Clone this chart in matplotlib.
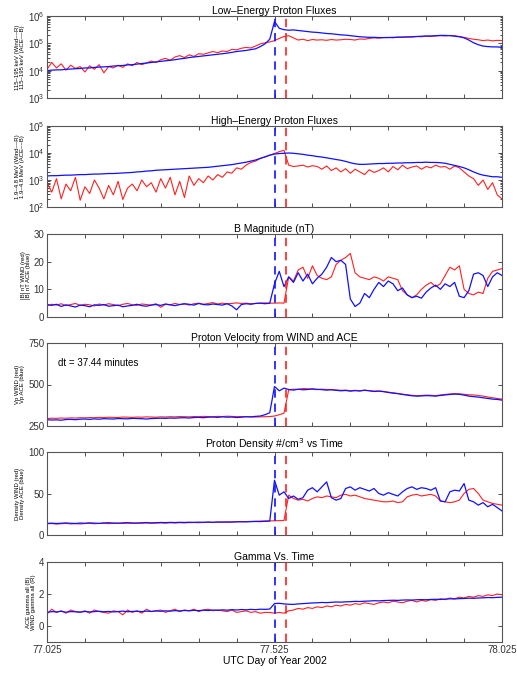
import numpy as np
import matplotlib
matplotlib.use("Agg")
import matplotlib.pyplot as plt

plt.rcParams['font.family'] = ['Liberation Sans', 'DejaVu Sans']

# time grid: 15 minute samples, day of year 2002
t = 77.025 + np.arange(97) / 96.0
t_ace_shock = 77.525
t_wind_shock = 77.525 + 37.44 / 1440.0

# panel 1: low-energy proton flux (log10)
lo_ace = [4.00, 4.02, 4.03, 4.03, 4.05, 4.06, 4.07, 4.08, 4.10, 4.10, 4.12, 4.13,
          4.14, 4.15, 4.17, 4.18, 4.19, 4.21, 4.22, 4.24, 4.26, 4.28, 4.30, 4.32,
          4.34, 4.36, 4.38, 4.40, 4.43, 4.45, 4.48, 4.50, 4.52, 4.54, 4.56, 4.58,
          4.60, 4.62, 4.64, 4.67, 4.70, 4.72, 4.74, 4.77, 4.80, 4.88, 4.98, 5.15,
          5.80, 5.55, 5.50, 5.48, 5.49, 5.47, 5.45, 5.43, 5.41, 5.40, 5.38, 5.36,
          5.35, 5.33, 5.31, 5.30, 5.28, 5.26, 5.24, 5.23, 5.22, 5.22, 5.21, 5.21,
          5.21, 5.22, 5.22, 5.23, 5.23, 5.24, 5.25, 5.26, 5.27, 5.27, 5.28, 5.29,
          5.29, 5.28, 5.26, 5.24, 5.20, 5.12, 5.02, 4.95, 4.90, 4.88, 4.87, 4.87,
          4.85]
lo_wind = [4.05, 4.30, 4.10, 4.25, 4.02, 4.20, 4.08, 4.15, 3.95, 4.18, 4.05, 4.22,
           3.92, 4.15, 4.10, 4.20, 4.12, 4.25, 4.18, 4.30, 4.22, 4.28, 4.35, 4.30,
           4.40, 4.45, 4.38, 4.50, 4.55, 4.48, 4.58, 4.52, 4.62, 4.60, 4.65, 4.70,
           4.66, 4.72, 4.70, 4.78, 4.76, 4.82, 4.85, 4.83, 4.90, 4.98, 5.02, 5.05,
           5.10, 5.18, 5.25, 5.28, 5.20, 5.12, 5.15, 5.10, 5.14, 5.12, 5.13, 5.11,
           5.14, 5.12, 5.13, 5.15, 5.14, 5.12, 5.16, 5.15, 5.18, 5.20, 5.19, 5.21,
           5.22, 5.20, 5.23, 5.22, 5.24, 5.23, 5.25, 5.24, 5.26, 5.25, 5.27, 5.28,
           5.27, 5.29, 5.28, 5.25, 5.22, 5.18, 5.15, 5.13, 5.10, 5.12, 5.09, 5.11,
           5.10]

# panel 2: high-energy proton flux (log10)
hi_ace = [3.15, 3.16, 3.16, 3.17, 3.18, 3.18, 3.19, 3.20, 3.20, 3.21, 3.22, 3.22,
          3.23, 3.24, 3.24, 3.25, 3.26, 3.27, 3.28, 3.30, 3.31, 3.33, 3.34, 3.36,
          3.37, 3.38, 3.39, 3.40, 3.41, 3.42, 3.43, 3.44, 3.45, 3.46, 3.47, 3.49,
          3.51, 3.53, 3.55, 3.57, 3.60, 3.63, 3.66, 3.70, 3.74, 3.80, 3.86, 3.92,
          3.96, 3.98, 3.99, 4.00, 3.99, 3.97, 3.95, 3.92, 3.90, 3.87, 3.85, 3.82,
          3.79, 3.76, 3.73, 3.69, 3.64, 3.60, 3.58, 3.58, 3.59, 3.60, 3.61, 3.61,
          3.62, 3.62, 3.63, 3.63, 3.64, 3.64, 3.65, 3.65, 3.66, 3.65, 3.65, 3.64,
          3.62, 3.58, 3.54, 3.50, 3.45, 3.38, 3.30, 3.23, 3.18, 3.15, 3.12, 3.12,
          3.10]
hi_wind = [2.90, 2.55, 3.05, 2.30, 2.85, 2.60, 3.10, 2.25, 2.75, 2.50, 3.00, 2.70,
           2.30, 2.80, 2.45, 2.95, 2.28, 2.70, 2.85, 2.60, 3.00, 2.75, 2.90, 2.55,
           3.05, 2.70, 3.10, 2.45, 2.95, 2.35, 3.15, 2.80, 3.05, 2.90, 3.15, 3.00,
           3.20, 3.10, 3.30, 3.25, 3.45, 3.40, 3.55, 3.65, 3.70, 3.80, 3.85, 3.92,
           3.98, 4.05, 4.10, 3.55, 3.50, 3.52, 3.55, 3.48, 3.53, 3.50, 3.40, 3.52,
           3.35, 3.45, 3.30, 3.42, 3.25, 3.40, 3.30, 3.20, 3.38, 3.28, 3.35, 3.45,
           3.30, 3.50, 3.38, 3.55, 3.42, 3.48, 3.52, 3.40, 3.50, 3.45, 3.55, 3.48,
           3.50, 3.40, 3.52, 3.45, 3.30, 3.15, 3.05, 2.80, 3.00, 2.65, 2.90, 2.45,
           2.30]

# panel 3: |B| (nT)
b_ace = [4.5, 4.2, 4.6, 3.8, 4.4, 4.0, 3.6, 4.3, 4.1, 3.7, 4.4, 4.2,
         4.5, 3.9, 4.1, 4.3, 3.7, 4.0, 4.2, 4.6, 4.1, 3.9, 4.3, 4.5,
         4.2, 4.7, 4.4, 4.1, 4.5, 4.8, 4.6, 4.3, 4.9, 4.5, 4.4, 4.7,
         4.5, 4.3, 4.8, 4.0, 2.6, 4.5, 4.8, 4.6, 4.9, 5.0, 4.8, 5.0,
         12.0, 16.5, 11.0, 14.5, 12.5, 16.0, 13.0, 15.5, 12.0, 14.0, 15.5, 18.0,
         21.5, 20.0, 20.5, 19.0, 6.5, 3.8, 5.0, 8.5, 7.0, 10.0, 12.5, 11.0,
         13.0, 12.0, 9.5, 10.5, 8.0, 7.0, 7.5, 6.8, 9.0, 10.5, 11.5, 10.0,
         12.0, 11.0, 12.5, 7.5, 7.0, 9.5, 15.5, 16.0, 15.0, 11.0, 14.5, 16.0,
         15.0]
b_wind = [4.0, 4.6, 4.3, 4.8, 4.1, 4.5, 4.9, 4.2, 4.6, 4.4, 4.0, 4.7,
          4.3, 4.8, 4.5, 4.1, 4.6, 4.9, 4.4, 4.2, 4.7, 4.5, 4.3, 4.8,
          3.5, 4.6, 4.4, 4.9, 4.5, 4.7, 4.3, 4.8, 5.0, 4.6, 4.9, 5.2,
          4.7, 5.0, 4.8, 4.9, 5.1, 4.9, 5.0, 4.8, 4.9, 5.0, 5.1, 5.0,
          5.0, 5.1, 5.0, 14.5, 13.0, 17.0, 18.0, 14.0, 18.5, 15.0, 14.0, 13.5,
          14.5, 19.0, 20.5, 21.5, 23.0, 16.0, 14.5, 14.0, 13.5, 14.5, 14.0, 13.0,
          14.5, 14.0, 13.5, 9.5, 8.0, 7.0, 8.0, 10.0, 11.5, 12.5, 11.0, 12.0,
          15.0, 18.0, 17.0, 18.5, 10.0, 8.5, 8.0, 9.0, 8.5, 14.0, 16.5, 17.0,
          17.5]

# panel 4: proton speed (km/s)
v_ace = [288, 286, 287, 285, 289, 290, 288, 291, 292, 290, 293, 291,
         294, 293, 292, 295, 294, 293, 296, 295, 294, 292, 295, 296,
         297, 296, 298, 297, 299, 300, 298, 301, 302, 300, 303, 304,
         302, 305, 303, 304, 301, 303, 306, 305, 308, 310, 318, 330,
         488, 462, 478, 470, 466, 472, 468, 470, 474, 471, 469, 466,
         468, 465, 462, 464, 460, 463, 461, 465, 462, 458, 460, 457,
         452, 448, 445, 440, 436, 432, 430, 431, 433, 432, 430, 434,
         437, 440, 442, 441, 436, 430, 427, 424, 420, 416, 412, 410,
         406]
v_wind = [295, 297, 296, 298, 297, 299, 298, 300, 299, 301, 300, 302,
          301, 303, 302, 301, 304, 303, 302, 304, 303, 305, 304, 303,
          305, 304, 306, 305, 307, 306, 305, 307, 306, 308, 307, 306,
          308, 307, 309, 308, 306, 307, 306, 305, 304, 305, 306, 307,
          310, 318, 327, 468, 472, 470, 476, 474, 471, 469, 472, 470,
          470, 467, 465, 466, 463, 465, 462, 466, 463, 460, 461, 458,
          454, 450, 446, 442, 438, 435, 433, 434, 436, 435, 433, 437,
          440, 443, 445, 444, 441, 438, 437, 434, 430, 425, 420, 416,
          412]

# panel 5: proton density (#/cm^3)
n_ace = [14.0, 14.3, 13.8, 14.2, 14.5, 14.1, 13.9, 14.4, 14.2, 14.6, 14.3, 14.0,
         14.5, 14.8, 14.4, 14.2, 14.6, 14.9, 14.5, 14.3, 14.7, 15.0, 14.6, 14.8,
         15.1, 14.9, 15.2, 15.0, 15.3, 15.1, 15.4, 15.2, 15.5, 15.3, 15.6, 15.4,
         15.7, 15.5, 15.8, 15.6, 15.9, 16.0, 15.8, 16.1, 16.3, 16.2, 16.5, 16.8,
         66.0, 48.0, 52.0, 44.0, 47.0, 43.0, 45.0, 54.0, 57.0, 52.0, 58.0, 64.0,
         45.0, 42.0, 44.0, 56.0, 58.0, 54.0, 57.0, 55.0, 53.0, 56.0, 50.0, 48.0,
         51.0, 49.0, 47.0, 52.0, 56.0, 58.0, 55.0, 57.0, 56.0, 54.0, 57.0, 41.0,
         40.0, 52.0, 54.0, 53.0, 62.0, 42.0, 40.0, 36.0, 39.0, 34.0, 37.0, 33.0,
         29.0]
n_wind = [13.5, 13.8, 13.2, 13.6, 13.9, 13.4, 13.7, 13.3, 13.8, 14.0, 13.6, 13.9,
          14.1, 13.7, 14.0, 14.2, 13.9, 14.3, 14.0, 14.4, 14.2, 14.5, 14.1, 14.4,
          14.6, 14.3, 14.7, 14.5, 14.8, 14.6, 14.9, 15.0, 14.8, 15.1, 15.3, 15.0,
          15.4, 15.6, 15.3, 15.7, 15.9, 16.0, 16.2, 16.4, 16.5, 16.7, 16.9, 17.0,
          17.1, 17.3, 17.5, 48.0, 44.0, 42.0, 43.0, 41.0, 44.0, 46.0, 45.0, 47.0,
          46.0, 45.0, 48.0, 49.0, 47.0, 48.0, 46.0, 44.0, 43.0, 42.0, 41.0, 40.0,
          40.0, 41.0, 39.0, 40.0, 46.0, 48.0, 49.0, 47.0, 48.0, 49.0, 47.0, 41.0,
          40.0, 39.0, 40.0, 42.0, 50.0, 55.0, 56.0, 50.0, 42.0, 40.0, 38.0, 37.0,
          36.0]

# panel 6: gamma
g_ace = [0.85, 0.90, 0.88, 0.92, 0.86, 0.90, 0.89, 0.87, 0.91, 0.88, 0.90, 0.92,
         0.89, 0.91, 0.88, 0.90, 0.93, 0.89, 0.91, 0.92, 0.90, 0.93, 0.91, 0.94,
         0.92, 0.95, 0.93, 0.96, 0.94, 0.97, 0.95, 0.98, 0.96, 0.99, 0.97, 1.00,
         0.98, 1.01, 0.99, 1.02, 1.00, 1.03, 1.01, 1.04, 1.02, 1.05, 1.04, 1.06,
         1.40, 1.42, 1.38, 1.36, 1.35, 1.38, 1.40, 1.42, 1.44, 1.45, 1.47, 1.46,
         1.48, 1.50, 1.49, 1.51, 1.52, 1.54, 1.53, 1.55, 1.56, 1.58, 1.57, 1.59,
         1.60, 1.61, 1.60, 1.62, 1.63, 1.62, 1.64, 1.65, 1.64, 1.66, 1.67, 1.66,
         1.68, 1.70, 1.69, 1.71, 1.72, 1.74, 1.73, 1.75, 1.76, 1.78, 1.77, 1.79,
         1.80]
g_wind = [0.75, 1.05, 0.85, 0.95, 0.80, 1.00, 0.90, 0.85, 0.95, 0.80, 1.00, 0.90,
          0.85, 0.80, 0.95, 0.90, 0.70, 1.00, 0.85, 0.95, 0.80, 1.05, 0.90, 0.95,
          1.00, 0.85, 0.95, 1.05, 0.90, 1.00, 0.95, 1.05, 0.90, 1.00, 1.05, 0.95,
          1.00, 0.95, 0.90, 1.00, 0.85, 0.90, 0.95, 0.85, 0.90, 0.80, 0.85, 0.85,
          0.80, 0.85, 0.80, 0.95, 1.00, 1.10, 1.05, 1.15, 1.10, 1.20, 1.15, 1.25,
          1.20, 1.30, 1.25, 1.35, 1.30, 1.40, 1.35, 1.45, 1.40, 1.35, 1.45, 1.50,
          1.45, 1.55, 1.50, 1.45, 1.55, 1.60, 1.50, 1.60, 1.55, 1.65, 1.60, 1.70,
          1.65, 1.75, 1.70, 1.80, 1.75, 1.85, 1.80, 1.90, 1.85, 1.95, 1.90, 2.00,
          1.95]

titles = ['Low\u2013Energy Proton Fluxes', 'High\u2013Energy Proton Fluxes',
          'B Magnitude (nT)', 'Proton Velocity from WIND and ACE',
          'Proton Density #/cm$^3$ vs Time', 'Gamma Vs. Time']
ylabels = ['115\u2013195 keV (Wind\u2013\u2013R)\n115\u2013195 keV (ACE\u2013\u2013B)',
           '1.9\u20134.8 MeV (Wind\u2013\u2013R)\n1.9\u20134.8 MeV (ACE\u2013\u2013B)',
           '|B| nT WIND (red)\n|B| nT ACE (blue)',
           'Vp WIND (red)\nVp ACE (blue)',
           'Density WIND (red)\nDensity ACE (blue)',
           'ACE gamma all (B)\nWIND gamma all (R)']

series = [(lo_ace, lo_wind, True), (hi_ace, hi_wind, True), (b_ace, b_wind, False),
          (v_ace, v_wind, False), (n_ace, n_wind, False), (g_ace, g_wind, False)]
ylims = [(1e3, 1e6), (1e2, 1e5), (0, 30), (250, 750), (0, 100), (-1, 4)]
yticks = [None, None, [0, 10, 20, 30], [250, 500, 750], [0, 50, 100], [0, 2, 4]]

# axes boxes in pixels (top, bottom) for a 517x673 figure
boxes = [(16, 98), (126, 207), (234, 317), (343, 426), (452, 535), (562, 642)]

fig = plt.figure(figsize=(5.17, 6.73), dpi=100)
xt = 77.025 + np.arange(13) / 12.0

for k in range(6):
    top, bot = boxes[k]
    ax = fig.add_axes([47 / 517, 1 - bot / 673, 455 / 517, (bot - top) / 673])
    ya, yw, islog = series[k]
    if islog:
        ya = 10 ** np.array(ya)
        yw = 10 ** np.array(yw)
        ax.set_yscale('log')
    ax.plot(t, yw, color='#ff2020', lw=0.8)
    ax.plot(t, ya, color='#1010ff', lw=0.9)
    ax.axvline(t_ace_shock, color='#1010ff', lw=1.2, ls=(0, (5, 3.5)))
    ax.axvline(t_wind_shock, color='#ff2020', lw=1.2, ls=(0, (5, 3.5)))
    ax.set_xlim(77.025, 78.025)
    ax.set_ylim(*ylims[k])
    if yticks[k] is not None:
        ax.set_yticks(yticks[k])
    ax.set_xticks(xt)
    if k == 5:
        ax.set_xticklabels(['77.025' if i == 0 else '77.525' if i == 6 else
                            '78.025' if i == 12 else '' for i in range(13)])
        ax.set_xlabel('UTC Day of Year 2002', fontsize=7.5, labelpad=1)
    else:
        ax.set_xticklabels([])
    ax.tick_params(direction='in', top=True, right=True, length=3, width=0.6,
                   labelsize=7, pad=2, colors='#333333')
    ax.tick_params(which='minor', direction='in', right=True, length=1.8, width=0.5)
    for s in ax.spines.values():
        s.set_color('#555555')
        s.set_linewidth(0.8)
    ax.set_title(titles[k], fontsize=7.5, pad=1.5)
    ax.set_ylabel(ylabels[k], fontsize=4.3, labelpad=2, linespacing=1.0)
    if k == 3:
        ax.text(0.024, 0.76, 'dt = 37.44 minutes', transform=ax.transAxes,
                fontsize=7, va='center', ha='left')

fig.savefig('out.png', dpi=100)
